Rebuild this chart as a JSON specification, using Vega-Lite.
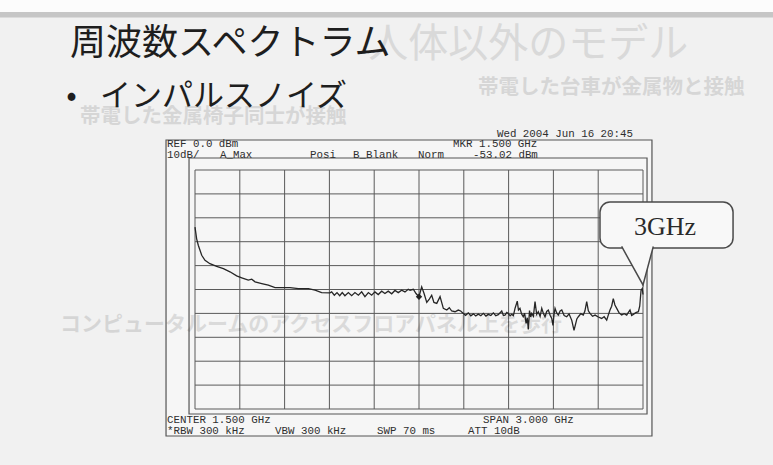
{
  "$schema": "https://vega.github.io/schema/vega-lite/v6.json",
  "width": 448,
  "height": 239,
  "autosize": {"type": "none"},
  "padding": {"left": 195, "top": 170, "right": 130, "bottom": 56},
  "background": "#f1f1f1",
  "config": {"view": {"stroke": null}},
  "datasets": {
    "trace": [
      {"f": 0.000, "dbm": -23.9}, {"f": 0.011, "dbm": -28.8}, {"f": 0.022, "dbm": -31.5}, {"f": 0.045, "dbm": -35.7},
      {"f": 0.067, "dbm": -37.8}, {"f": 0.100, "dbm": -39.2}, {"f": 0.145, "dbm": -40.3}, {"f": 0.190, "dbm": -41.3},
      {"f": 0.234, "dbm": -42.6}, {"f": 0.279, "dbm": -44.3}, {"f": 0.313, "dbm": -45.1}, {"f": 0.357, "dbm": -46.1},
      {"f": 0.380, "dbm": -45.7}, {"f": 0.402, "dbm": -46.8}, {"f": 0.447, "dbm": -47.5}, {"f": 0.491, "dbm": -48.2},
      {"f": 0.536, "dbm": -49.2}, {"f": 0.581, "dbm": -49.2}, {"f": 0.636, "dbm": -49.2}, {"f": 0.692, "dbm": -49.6},
      {"f": 0.759, "dbm": -49.6}, {"f": 0.804, "dbm": -50.3}, {"f": 0.848, "dbm": -51.3}, {"f": 0.904, "dbm": -51.4},
      {"f": 0.915, "dbm": -51.0}, {"f": 0.933, "dbm": -52.4}, {"f": 0.951, "dbm": -51.3}, {"f": 0.969, "dbm": -52.6},
      {"f": 0.986, "dbm": -51.3}, {"f": 1.004, "dbm": -52.6}, {"f": 1.027, "dbm": -51.3}, {"f": 1.049, "dbm": -52.6},
      {"f": 1.071, "dbm": -51.3}, {"f": 1.094, "dbm": -52.4}, {"f": 1.116, "dbm": -51.0}, {"f": 1.138, "dbm": -53.0},
      {"f": 1.161, "dbm": -51.3}, {"f": 1.183, "dbm": -52.4}, {"f": 1.205, "dbm": -51.0}, {"f": 1.227, "dbm": -52.1},
      {"f": 1.250, "dbm": -50.7}, {"f": 1.272, "dbm": -51.7}, {"f": 1.294, "dbm": -50.7}, {"f": 1.317, "dbm": -51.8},
      {"f": 1.339, "dbm": -50.4}, {"f": 1.361, "dbm": -51.3}, {"f": 1.384, "dbm": -50.3}, {"f": 1.406, "dbm": -51.0},
      {"f": 1.428, "dbm": -49.9}, {"f": 1.440, "dbm": -50.3}, {"f": 1.462, "dbm": -49.9}, {"f": 1.480, "dbm": -51.7},
      {"f": 1.500, "dbm": -53.0}, {"f": 1.518, "dbm": -48.9}, {"f": 1.534, "dbm": -51.7}, {"f": 1.552, "dbm": -55.4},
      {"f": 1.569, "dbm": -54.0}, {"f": 1.585, "dbm": -52.4}, {"f": 1.600, "dbm": -55.4}, {"f": 1.619, "dbm": -55.8},
      {"f": 1.641, "dbm": -53.0}, {"f": 1.663, "dbm": -57.9}, {"f": 1.686, "dbm": -58.6}, {"f": 1.703, "dbm": -57.6},
      {"f": 1.719, "dbm": -59.0}, {"f": 1.741, "dbm": -59.3}, {"f": 1.763, "dbm": -58.6}, {"f": 1.779, "dbm": -59.0},
      {"f": 1.797, "dbm": -60.0}, {"f": 1.812, "dbm": -60.8}, {"f": 1.830, "dbm": -59.8}, {"f": 1.847, "dbm": -61.0},
      {"f": 1.864, "dbm": -60.2}, {"f": 1.880, "dbm": -61.1}, {"f": 1.897, "dbm": -60.3}, {"f": 1.914, "dbm": -61.0},
      {"f": 1.931, "dbm": -60.0}, {"f": 1.948, "dbm": -61.1}, {"f": 1.964, "dbm": -60.4}, {"f": 1.981, "dbm": -60.9},
      {"f": 1.998, "dbm": -59.8}, {"f": 2.014, "dbm": -61.0}, {"f": 2.031, "dbm": -60.5}, {"f": 2.054, "dbm": -59.0},
      {"f": 2.065, "dbm": -60.9}, {"f": 2.076, "dbm": -60.7}, {"f": 2.088, "dbm": -59.6}, {"f": 2.098, "dbm": -60.0},
      {"f": 2.110, "dbm": -61.0}, {"f": 2.121, "dbm": -60.4}, {"f": 2.132, "dbm": -60.9}, {"f": 2.143, "dbm": -57.9},
      {"f": 2.158, "dbm": -54.9}, {"f": 2.166, "dbm": -58.6}, {"f": 2.176, "dbm": -57.9}, {"f": 2.187, "dbm": -60.2},
      {"f": 2.198, "dbm": -61.4}, {"f": 2.207, "dbm": -59.9}, {"f": 2.217, "dbm": -64.2}, {"f": 2.225, "dbm": -61.8},
      {"f": 2.232, "dbm": -66.7}, {"f": 2.240, "dbm": -58.8}, {"f": 2.248, "dbm": -61.5}, {"f": 2.255, "dbm": -60.0},
      {"f": 2.266, "dbm": -61.2}, {"f": 2.277, "dbm": -55.1}, {"f": 2.288, "dbm": -60.4}, {"f": 2.299, "dbm": -59.3},
      {"f": 2.311, "dbm": -61.3}, {"f": 2.322, "dbm": -57.9}, {"f": 2.333, "dbm": -60.0}, {"f": 2.344, "dbm": -61.4},
      {"f": 2.355, "dbm": -59.2}, {"f": 2.366, "dbm": -58.6}, {"f": 2.378, "dbm": -60.8}, {"f": 2.389, "dbm": -62.1},
      {"f": 2.397, "dbm": -65.0}, {"f": 2.404, "dbm": -60.5}, {"f": 2.411, "dbm": -57.9}, {"f": 2.422, "dbm": -59.8},
      {"f": 2.433, "dbm": -60.7}, {"f": 2.445, "dbm": -59.0}, {"f": 2.456, "dbm": -58.6}, {"f": 2.472, "dbm": -60.9},
      {"f": 2.489, "dbm": -61.4}, {"f": 2.505, "dbm": -60.2}, {"f": 2.523, "dbm": -62.9}, {"f": 2.538, "dbm": -67.1},
      {"f": 2.548, "dbm": -64.6}, {"f": 2.557, "dbm": -62.3}, {"f": 2.567, "dbm": -61.4}, {"f": 2.584, "dbm": -60.1},
      {"f": 2.600, "dbm": -60.7}, {"f": 2.611, "dbm": -59.0}, {"f": 2.623, "dbm": -55.1}, {"f": 2.634, "dbm": -58.9},
      {"f": 2.645, "dbm": -60.0}, {"f": 2.662, "dbm": -61.2}, {"f": 2.679, "dbm": -60.7}, {"f": 2.701, "dbm": -61.5},
      {"f": 2.723, "dbm": -62.1}, {"f": 2.740, "dbm": -61.4}, {"f": 2.757, "dbm": -62.8}, {"f": 2.768, "dbm": -60.6},
      {"f": 2.779, "dbm": -58.6}, {"f": 2.790, "dbm": -57.0}, {"f": 2.801, "dbm": -53.8}, {"f": 2.812, "dbm": -56.5},
      {"f": 2.824, "dbm": -57.9}, {"f": 2.840, "dbm": -59.8}, {"f": 2.857, "dbm": -60.7}, {"f": 2.874, "dbm": -60.1},
      {"f": 2.891, "dbm": -60.7}, {"f": 2.902, "dbm": -59.6}, {"f": 2.913, "dbm": -58.6}, {"f": 2.924, "dbm": -60.9},
      {"f": 2.935, "dbm": -60.4}, {"f": 2.952, "dbm": -59.7}, {"f": 2.969, "dbm": -59.3}, {"f": 2.978, "dbm": -57.0},
      {"f": 2.987, "dbm": -50.3}, {"f": 2.995, "dbm": -49.6}, {"f": 3.000, "dbm": -52.1}
    ],
    "vgrid": [
      {"f": 0.0}, {"f": 0.3}, {"f": 0.6}, {"f": 0.9}, {"f": 1.2}, {"f": 1.5},
      {"f": 1.8}, {"f": 2.1}, {"f": 2.4}, {"f": 2.7}, {"f": 3.0}
    ],
    "hgrid": [
      {"dbm": 0}, {"dbm": -10}, {"dbm": -20}, {"dbm": -30}, {"dbm": -40}, {"dbm": -50},
      {"dbm": -60}, {"dbm": -70}, {"dbm": -80}, {"dbm": -90}, {"dbm": -100}
    ],
    "labels": [
      {"t": "Wed 2004 Jun 16 20:45", "f": 2.022, "dbm": 15.15},
      {"t": "REF 0.0 dBm", "f": -0.1875, "dbm": 10.75},
      {"t": "10dB/", "f": -0.1875, "dbm": 6.23},
      {"t": "A_Max", "f": 0.167, "dbm": 6.23},
      {"t": "Posi", "f": 0.770, "dbm": 6.23},
      {"t": "B_Blank", "f": 1.058, "dbm": 6.23},
      {"t": "Norm", "f": 1.493, "dbm": 6.23},
      {"t": "MKR 1.500 GHz", "f": 1.728, "dbm": 10.75},
      {"t": "-53.02 dBm", "f": 1.862, "dbm": 6.23},
      {"t": "CENTER 1.500 GHz", "f": -0.1875, "dbm": -104.6},
      {"t": "SPAN 3.000 GHz", "f": 1.929, "dbm": -104.6},
      {"t": "*RBW 300 kHz", "f": -0.1875, "dbm": -109.1},
      {"t": "VBW 300 kHz", "f": 0.536, "dbm": -109.1},
      {"t": "SWP 70 ms", "f": 1.219, "dbm": -109.1},
      {"t": "ATT 10dB", "f": 1.828, "dbm": -109.1}
    ]
  },
  "layer": [
    {
      "data": {"values": [{"f": -1.31, "f2": 3.88, "dbm": 71.2, "dbm2": 66.1}]},
      "mark": {"type": "rect", "fill": "#fcfcfc"},
      "encoding": {
        "x": {"field": "f", "type": "quantitative", "scale": {"domain": [0, 3], "nice": false}, "axis": null},
        "x2": {"field": "f2"},
        "y": {"field": "dbm", "type": "quantitative", "scale": {"domain": [-100, 0], "nice": false}, "axis": null},
        "y2": {"field": "dbm2"}
      }
    },
    {
      "data": {"values": [{"f": -1.31, "f2": 3.88, "dbm": 66.1, "dbm2": 63.8}]},
      "mark": {"type": "rect", "fill": "#c6c6c6"},
      "encoding": {
        "x": {"field": "f", "type": "quantitative", "scale": {"domain": [0, 3], "nice": false}, "axis": null},
        "x2": {"field": "f2"},
        "y": {"field": "dbm", "type": "quantitative", "scale": {"domain": [-100, 0], "nice": false}, "axis": null},
        "y2": {"field": "dbm2"}
      }
    },
    {
      "data": {"values": [{"t": "人体以外のモデル", "f": 1.16, "dbm": 52.3}]},
      "mark": {"type": "text", "align": "left", "baseline": "middle", "font": "Noto Sans CJK JP", "fontSize": 40, "fill": "#d9d9d9"},
      "encoding": {
        "x": {"field": "f", "type": "quantitative", "scale": {"domain": [0, 3], "nice": false}, "axis": null},
        "y": {"field": "dbm", "type": "quantitative", "scale": {"domain": [-100, 0], "nice": false}, "axis": null},
        "text": {"field": "t"}
      }
    },
    {
      "data": {"values": [
        {"t": "帯電した台車が金属物と接触", "f": 1.895, "dbm": 34.3},
        {"t": "帯電した金属椅子同士が接触", "f": -0.77, "dbm": 22.2}
      ]},
      "mark": {"type": "text", "align": "left", "baseline": "middle", "font": "Noto Sans CJK JP", "fontWeight": "bold", "fontSize": 20.5, "fill": "#d6d6d6"},
      "encoding": {
        "x": {"field": "f", "type": "quantitative", "scale": {"domain": [0, 3], "nice": false}, "axis": null},
        "y": {"field": "dbm", "type": "quantitative", "scale": {"domain": [-100, 0], "nice": false}, "axis": null},
        "text": {"field": "t"}
      }
    },
    {
      "data": {"values": [{"f": -0.194, "f2": 3.06, "dbm": 12.55, "dbm2": -111.3}]},
      "mark": {"type": "rect", "fill": "#f6f6f6", "stroke": "#555555", "strokeWidth": 1.2},
      "encoding": {
        "x": {"field": "f", "type": "quantitative", "scale": {"domain": [0, 3], "nice": false}, "axis": null},
        "x2": {"field": "f2"},
        "y": {"field": "dbm", "type": "quantitative", "scale": {"domain": [-100, 0], "nice": false}, "axis": null},
        "y2": {"field": "dbm2"}
      }
    },
    {
      "data": {"values": [{"f": -0.04, "f2": 3.027, "dbm": 5.02, "dbm2": -102.1}]},
      "mark": {"type": "rect", "fill": null, "fillOpacity": 0, "stroke": "#555555", "strokeWidth": 1.2},
      "encoding": {
        "x": {"field": "f", "type": "quantitative", "scale": {"domain": [0, 3], "nice": false}, "axis": null},
        "x2": {"field": "f2"},
        "y": {"field": "dbm", "type": "quantitative", "scale": {"domain": [-100, 0], "nice": false}, "axis": null},
        "y2": {"field": "dbm2"}
      }
    },
    {
      "data": {"name": "vgrid"},
      "mark": {"type": "rule", "stroke": "#5a5a5a", "strokeWidth": 1},
      "encoding": {
        "x": {"field": "f", "type": "quantitative", "scale": {"domain": [0, 3], "nice": false}, "axis": null},
        "y": {"datum": 0, "type": "quantitative", "scale": {"domain": [-100, 0], "nice": false}, "axis": null},
        "y2": {"datum": -100}
      }
    },
    {
      "data": {"name": "hgrid"},
      "mark": {"type": "rule", "stroke": "#5a5a5a", "strokeWidth": 1},
      "encoding": {
        "y": {"field": "dbm", "type": "quantitative", "scale": {"domain": [-100, 0], "nice": false}, "axis": null},
        "x": {"datum": 0, "type": "quantitative", "scale": {"domain": [0, 3], "nice": false}, "axis": null},
        "x2": {"datum": 3}
      }
    },
    {
      "data": {"name": "trace"},
      "mark": {"type": "line", "stroke": "#262626", "strokeWidth": 1.3},
      "encoding": {
        "x": {"field": "f", "type": "quantitative", "scale": {"domain": [0, 3], "nice": false}, "axis": null},
        "y": {"field": "dbm", "type": "quantitative", "scale": {"domain": [-100, 0], "nice": false}, "axis": null}
      }
    },
    {
      "data": {"values": [{"f": 1.5, "dbm": -53.02}]},
      "mark": {"type": "point", "shape": "diamond", "filled": true, "fill": "#222222", "size": 40, "opacity": 1},
      "encoding": {
        "x": {"field": "f", "type": "quantitative", "scale": {"domain": [0, 3], "nice": false}, "axis": null},
        "y": {"field": "dbm", "type": "quantitative", "scale": {"domain": [-100, 0], "nice": false}, "axis": null}
      }
    },
    {
      "data": {"name": "labels"},
      "mark": {"type": "text", "align": "left", "baseline": "middle", "font": "Liberation Mono", "fontSize": 10.8, "fill": "#2e2e2e"},
      "encoding": {
        "x": {"field": "f", "type": "quantitative", "scale": {"domain": [0, 3], "nice": false}, "axis": null},
        "y": {"field": "dbm", "type": "quantitative", "scale": {"domain": [-100, 0], "nice": false}, "axis": null},
        "text": {"field": "t"}
      }
    },
    {
      "data": {"values": [{"f": 2.712, "f2": 3.603, "dbm": -13.39, "dbm2": -32.64}]},
      "mark": {"type": "rect", "fill": "#f8f8f8", "stroke": "#4a4a4a", "strokeWidth": 1.5, "cornerRadius": 10},
      "encoding": {
        "x": {"field": "f", "type": "quantitative", "scale": {"domain": [0, 3], "nice": false}, "axis": null},
        "x2": {"field": "f2"},
        "y": {"field": "dbm", "type": "quantitative", "scale": {"domain": [-100, 0], "nice": false}, "axis": null},
        "y2": {"field": "dbm2"}
      }
    },
    {
      "data": {"values": [
        {"f": 2.857, "dbm": -32.0},
        {"f": 3.0, "dbm": -48.1},
        {"f": 3.069, "dbm": -32.0}
      ]},
      "mark": {"type": "line", "stroke": "#4a4a4a", "strokeWidth": 1.5, "fill": "#f8f8f8"},
      "encoding": {
        "x": {"field": "f", "type": "quantitative", "scale": {"domain": [0, 3], "nice": false}, "axis": null},
        "y": {"field": "dbm", "type": "quantitative", "scale": {"domain": [-100, 0], "nice": false}, "axis": null}
      }
    },
    {
      "data": {"values": [{"t": "3GHz", "f": 3.147, "dbm": -23.85}]},
      "mark": {"type": "text", "align": "center", "baseline": "middle", "font": "Liberation Serif", "fontSize": 26, "fill": "#2a2a2a"},
      "encoding": {
        "x": {"field": "f", "type": "quantitative", "scale": {"domain": [0, 3], "nice": false}, "axis": null},
        "y": {"field": "dbm", "type": "quantitative", "scale": {"domain": [-100, 0], "nice": false}, "axis": null},
        "text": {"field": "t"}
      }
    },
    {
      "data": {"values": [{"t": "コンピュータルームのアクセスフロアパネル上を歩行", "f": -0.904, "dbm": -64.9}]},
      "mark": {"type": "text", "align": "left", "baseline": "middle", "font": "Noto Sans CJK JP", "fontWeight": "bold", "fontSize": 21, "fill": "#000000", "opacity": 0.11},
      "encoding": {
        "x": {"field": "f", "type": "quantitative", "scale": {"domain": [0, 3], "nice": false}, "axis": null},
        "y": {"field": "dbm", "type": "quantitative", "scale": {"domain": [-100, 0], "nice": false}, "axis": null},
        "text": {"field": "t"}
      }
    },
    {
      "data": {"values": [{"t": "周波数スペクトラム", "f": -0.837, "dbm": 52.9}]},
      "mark": {"type": "text", "align": "left", "baseline": "middle", "font": "Noto Sans CJK JP", "fontSize": 36, "fill": "#1e1e1e"},
      "encoding": {
        "x": {"field": "f", "type": "quantitative", "scale": {"domain": [0, 3], "nice": false}, "axis": null},
        "y": {"field": "dbm", "type": "quantitative", "scale": {"domain": [-100, 0], "nice": false}, "axis": null},
        "text": {"field": "t"}
      }
    },
    {
      "data": {"values": [
        {"t": "•", "f": -0.862, "dbm": 30.5},
        {"t": "インパルスノイズ", "f": -0.636, "dbm": 30.5}
      ]},
      "mark": {"type": "text", "align": "left", "baseline": "middle", "font": "Noto Sans CJK JP", "fontSize": 31, "fill": "#1e1e1e"},
      "encoding": {
        "x": {"field": "f", "type": "quantitative", "scale": {"domain": [0, 3], "nice": false}, "axis": null},
        "y": {"field": "dbm", "type": "quantitative", "scale": {"domain": [-100, 0], "nice": false}, "axis": null},
        "text": {"field": "t"}
      }
    }
  ]
}
